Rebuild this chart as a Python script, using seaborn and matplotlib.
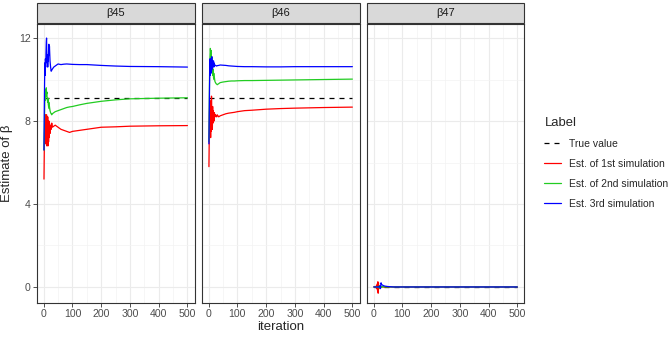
import numpy as np
import pandas as pd
import matplotlib.pyplot as plt
import seaborn as sns
from matplotlib.lines import Line2D
from matplotlib.patches import Rectangle

# iterations at which the running estimates were read off
iters = [1, 2, 3, 4, 5, 6, 7, 8, 9, 10,
         11, 12, 13, 14, 15, 16, 17, 18, 19, 20,
         22, 24, 26, 28, 30, 35, 40, 50, 60, 70,
         80, 90, 100, 125, 150, 200, 250, 300, 400, 500]

# beta 45
b45_sim1 = [5.2, 6.5, 7.4, 8.0, 7.2, 8.3, 6.9, 8.1, 7.0, 8.3,
            6.8, 7.9, 6.9, 8.2, 6.8, 7.6, 7.0, 8.0, 7.2, 7.9,
            7.4, 7.8, 7.6, 7.9, 7.7, 7.75, 7.8, 7.7, 7.6, 7.55,
            7.5, 7.45, 7.5, 7.55, 7.6, 7.7, 7.72, 7.75, 7.77, 7.78]
b45_sim2 = [6.6, 7.5, 8.3, 9.0, 9.4, 9.0, 9.5, 9.2, 9.6, 9.3,
            9.4, 9.1, 9.0, 8.9, 9.1, 8.8, 8.7, 8.9, 8.6, 8.7,
            8.5, 8.4, 8.35, 8.3, 8.35, 8.4, 8.45, 8.5, 8.55, 8.6,
            8.65, 8.68, 8.7, 8.78, 8.85, 8.95, 9.02, 9.07, 9.1, 9.12]
b45_sim3 = [6.6, 8.5, 9.8, 10.8, 10.2, 11.0, 10.6, 11.3, 11.8, 12.0,
            11.0, 10.8, 11.2, 10.6, 11.0, 10.9, 11.4, 11.7, 11.2, 11.6,
            10.9, 10.6, 10.4, 10.45, 10.5, 10.6, 10.65, 10.75, 10.72, 10.74,
            10.75, 10.74, 10.73, 10.72, 10.72, 10.68, 10.65, 10.63, 10.62, 10.6]

# beta 46
b46_sim1 = [5.8, 7.0, 8.4, 9.0, 7.4, 8.8, 7.2, 8.6, 7.5, 9.2,
            8.0, 8.4, 7.6, 8.7, 7.9, 8.5, 8.1, 8.3, 8.0, 8.4,
            8.2, 8.3, 8.25, 8.2, 8.3, 8.2, 8.25, 8.3, 8.35, 8.38,
            8.4, 8.42, 8.45, 8.5, 8.52, 8.57, 8.6, 8.62, 8.65, 8.67]
b46_sim2 = [7.0, 8.5, 10.0, 10.8, 11.2, 11.5, 11.3, 11.0, 11.4, 10.7,
            11.1, 10.5, 10.8, 10.4, 10.2, 10.5, 10.1, 10.3, 10.0, 10.1,
            9.9, 9.85, 9.8, 9.78, 9.75, 9.8, 9.85, 9.88, 9.9, 9.92,
            9.93, 9.93, 9.94, 9.95, 9.95, 9.96, 9.97, 9.98, 10.0, 10.02]
b46_sim3 = [6.9, 8.2, 9.5, 10.5, 11.0, 10.2, 10.9, 10.3, 11.0, 10.4,
            11.1, 10.5, 10.9, 10.6, 10.8, 10.7, 10.9, 10.6, 10.8, 10.65,
            10.7, 10.68, 10.66, 10.65, 10.67, 10.68, 10.7, 10.69, 10.68, 10.66,
            10.65, 10.64, 10.63, 10.62, 10.62, 10.61, 10.61, 10.62, 10.62, 10.62]

# beta 47
b47_sim1 = [0.0, 0.0, 0.02, -0.02, 0.0, 0.03, -0.03, 0.0, 0.02, 0.0,
            0.05, -0.1, 0.15, -0.2, 0.25, -0.3, 0.2, -0.1, 0.05, 0.02,
            0.01, 0.0, 0.0, 0.0, 0.0, 0.0, 0.0, 0.0, 0.0, 0.0,
            0.0, 0.0, 0.0, 0.0, 0.0, 0.0, 0.0, 0.0, 0.0, 0.0]
b47_sim2 = [0.0, 0.0, 0.0, 0.0, 0.0, 0.0, 0.0, 0.0, 0.0, 0.0,
            0.0, 0.0, 0.0, 0.0, 0.0, 0.0, 0.02, -0.03, 0.04, -0.05,
            0.06, -0.04, 0.03, -0.02, 0.02, 0.01, 0.0, 0.0, 0.0, 0.0,
            0.0, 0.0, 0.0, 0.0, 0.0, 0.0, 0.0, 0.0, 0.0, 0.0]
b47_sim3 = [0.0, 0.0, 0.0, 0.0, 0.0, 0.0, 0.0, 0.0, 0.0, 0.0,
            0.0, 0.0, 0.0, 0.0, 0.0, 0.0, 0.0, 0.0, 0.0, 0.02,
            0.05, -0.08, 0.2, 0.12, 0.1, 0.06, 0.04, 0.02, 0.01, 0.0,
            0.0, 0.0, 0.0, 0.0, 0.0, 0.0, 0.0, 0.0, 0.0, 0.0]

# true values (horizontal reference)
true_iters = [1, 500]
params = ["β45", "β46", "β47"]
true_vals = [9.1, 9.1, 0.0]

labels = ["True value", "Est. of 1st simulation",
          "Est. of 2nd simulation", "Est. 3rd simulation"]
colors = ["black", "#FF0000", "#22CC22", "#0000FF"]

sims = {"β45": [b45_sim1, b45_sim2, b45_sim3],
        "β46": [b46_sim1, b46_sim2, b46_sim3],
        "β47": [b47_sim1, b47_sim2, b47_sim3]}

rows = []
for p, tv in zip(params, true_vals):
    for it in true_iters:
        rows.append((p, labels[0], it, tv))
    for lab, vals in zip(labels[1:], sims[p]):
        for it, v in zip(iters, vals):
            rows.append((p, lab, it, v))
df = pd.DataFrame(rows, columns=["param", "Label", "iteration", "value"])

sns.set_theme(style="whitegrid")
plt.rcParams['font.family'] = ['Liberation Sans', 'DejaVu Sans']

g = sns.relplot(data=df, x="iteration", y="value", col="param", col_order=params,
                hue="Label", style="Label", hue_order=labels, style_order=labels,
                palette=dict(zip(labels, colors)),
                dashes={labels[0]: (4, 4), labels[1]: "", labels[2]: "", labels[3]: ""},
                kind="line", estimator=None, legend=False, linewidth=0.9,
                height=3.4, aspect=0.65)
fig = g.figure
fig.set_size_inches(6.69, 3.40)
fig.subplots_adjust(left=0.055, right=0.784, bottom=0.109, top=0.929, wspace=0.045)
g.set_titles("")
g.set_axis_labels("", "")

for i, (ax, p) in enumerate(zip(g.axes.flat, params)):
    ax.set_xlim(-24, 525)
    ax.set_ylim(-0.77, 12.67)
    ax.set_xticks([0, 100, 200, 300, 400, 500])
    ax.set_xticks([50, 150, 250, 350, 450], minor=True)
    ax.set_yticks([0, 4, 8, 12])
    ax.set_yticks([2, 6, 10], minor=True)
    ax.grid(which="major", color="#EBEBEB", lw=0.8)
    ax.grid(which="minor", color="#F3F3F3", lw=0.5)
    ax.set_axisbelow(True)
    for s in ax.spines.values():
        s.set_visible(True)
        s.set_color("#333333")
        s.set_linewidth(0.8)
    ax.tick_params(which="major", bottom=True, left=(i == 0), length=3, width=0.6,
                   color="#333333", labelsize=7.6, labelcolor="#4D4D4D", pad=1.5)
    ax.tick_params(which="minor", length=0)
    ax.add_patch(Rectangle((0, 1.004), 1, 0.072, transform=ax.transAxes,
                           facecolor="#D9D9D9", edgecolor="#333333", lw=0.8,
                           clip_on=False))
    ax.text(0.5, 1.04, p, transform=ax.transAxes, ha="center", va="center",
            fontsize=8, color="#1A1A1A")

g.axes[0, 0].set_ylabel("Estimate of β", fontsize=9.5, labelpad=4)
g.axes[0, 1].set_xlabel("iteration", fontsize=9.5, labelpad=1.5)

handles = [Line2D([], [], color=c, lw=0.9, dashes=(4, 4) if j == 0 else (None, None))
           for j, c in enumerate(colors)]
fig.legend(handles, labels, title="Label", loc="upper left",
           bbox_to_anchor=(0.806, 0.672), frameon=False, fontsize=7.5,
           title_fontsize=9.4, handlelength=1.6, handletextpad=0.75,
           labelspacing=0.97, borderpad=0, alignment="left")

fig.savefig("out.png", dpi=100)
